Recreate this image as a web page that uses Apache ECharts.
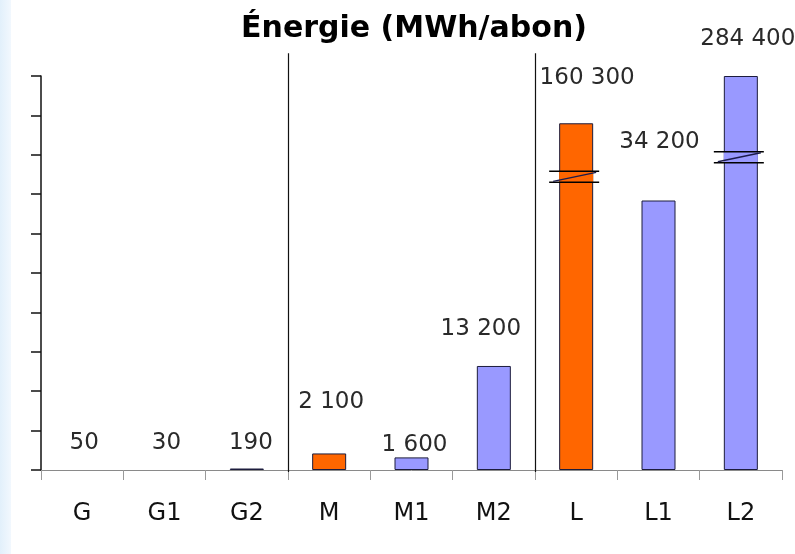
<!DOCTYPE html>
<html>
<head>
<meta charset="utf-8">
<script src="https://cdn.jsdelivr.net/npm/echarts@6/dist/echarts.min.js"></script>
<style>
html,body{margin:0;padding:0;background:#fff;}
#chart{width:795px;height:554px;}
</style>
</head>
<body>
<div id="chart"></div>
<script>
// ---- data ----
var categories = ['G', 'G1', 'G2', 'M', 'M1', 'M2', 'L', 'L1', 'L2'];
// real values shown in the labels (MWh/abon)
var realValues = [50, 30, 190, 2100, 1600, 13200, 160300, 34200, 284400];
// heights drawn on the broken axis (L and L2 are cut)
var drawnValues = [50, 30, 190, 2100, 1600, 13200, 44000, 34200, 50000];
// value where the axis break symbol is drawn (null = no break)
var breakValues = [null, null, null, null, null, null, 37200, null, 39700];
// group separators placed before these category indices
var separatorsBefore = [3, 6];

// ---- styles ----
var ORANGE = '#FF6600', BLUE = '#9999FF';
var barColors = [ORANGE, BLUE, BLUE, ORANGE, BLUE, BLUE, ORANGE, BLUE, BLUE];
var labelShift = [[2,-15],[2,-15],[4,-14],[2,-40],[3,-1],[-13,-25],[11,-34],[1,-47],[7,-25]];
var separatorTopValue = 52900;

function fmt(v) { return String(v).replace(/\B(?=(\d{3})+(?!\d))/g, ' '); }

var barData = drawnValues.map(function (v, i) {
  var tiny = v < 100; // sub-pixel bars are not visible in the original
  return {
    value: v,
    itemStyle: { color: tiny ? 'rgba(0,0,0,0)' : barColors[i], borderWidth: tiny ? 0 : 1 },
    label: { offset: labelShift[i] }
  };
});

var breakData = [];
breakValues.forEach(function (b, i) { if (b !== null) breakData.push([i, b, barColors[i]]); });
var sepData = separatorsBefore.map(function (i) { return [i, 0]; });

var chart = echarts.init(document.getElementById('chart'), null, { renderer: 'canvas' });
chart.setOption({
  animation: false,
  backgroundColor: '#ffffff',
  graphic: [{
    type: 'rect', left: 0, top: 0, z: -10,
    shape: { x: 0, y: 0, width: 11, height: 554 },
    style: { fill: new echarts.graphic.LinearGradient(0, 0, 1, 0, [
      { offset: 0, color: '#e2f0fb' }, { offset: 1, color: '#f2f8fe' }]) }
  }],
  title: {
    text: 'Énergie (MWh/abon)',
    left: 409, top: 9, textAlign: 'center',
    textStyle: { fontFamily: 'DejaVu Sans', fontWeight: 'bold', fontSize: 30, color: '#000' }
  },
  grid: { left: 41, right: 13, top: 76, bottom: 84 },
  xAxis: {
    type: 'category',
    data: categories,
    boundaryGap: true,
    axisLine: { lineStyle: { color: '#8a8a8a', width: 1 } },
    axisTick: { show: true, length: 10, alignWithLabel: false, lineStyle: { color: '#9a9a9a' } },
    axisLabel: { fontFamily: 'DejaVu Sans', fontSize: 24, color: '#111', margin: 32 },
    splitLine: { show: false }
  },
  yAxis: {
    type: 'value',
    min: 0, max: 50000, interval: 5000,
    axisLine: { show: true, lineStyle: { color: '#111', width: 1.5 } },
    axisTick: { show: true, length: 10, lineStyle: { color: '#111', width: 1.5 } },
    axisLabel: { show: false },
    splitLine: { show: false }
  },
  series: [{
    type: 'bar',
    data: barData,
    barWidth: 34,
    itemStyle: { borderColor: '#1c1c3c', borderWidth: 1 },
    label: {
      show: true, position: 'top', distance: 0,
      fontFamily: 'DejaVu Sans', fontSize: 23, color: '#2a2a2a',
      formatter: function (p) { return fmt(realValues[p.dataIndex]); }
    },
    z: 2
  }, {
    type: 'custom',
    data: breakData,
    z: 5,
    renderItem: function (params, api) {
      var c = api.coord([api.value(0), api.value(1)]);
      var x = c[0], y = c[1];
      return {
        type: 'group',
        children: [
          { type: 'rect', shape: { x: x - 17, y: y - 5.5, width: 34, height: 11 }, style: { fill: api.value(2) } },
          { type: 'line', shape: { x1: x - 27, y1: y - 5.5, x2: x + 23, y2: y - 5.5 }, style: { stroke: '#000', lineWidth: 1.5 } },
          { type: 'line', shape: { x1: x - 27, y1: y + 5.5, x2: x + 23, y2: y + 5.5 }, style: { stroke: '#000', lineWidth: 1.5 } },
          { type: 'line', shape: { x1: x - 23, y1: y + 4.5, x2: x + 20, y2: y - 4.5 }, style: { stroke: '#1c1c4c', lineWidth: 1.5 } }
        ]
      };
    }
  }, {
    type: 'custom',
    data: sepData,
    z: 6,
    renderItem: function (params, api) {
      var band = api.size([1, 0])[0];
      var b = api.coord([api.value(0), 0]);
      var t = api.coord([api.value(0), separatorTopValue]);
      var x = Math.round(b[0] - band / 2) + 0.5;
      return { type: 'line', shape: { x1: x, y1: t[1], x2: x, y2: b[1] + 2 }, style: { stroke: '#111', lineWidth: 1.2 } };
    }
  }]
});
</script>
</body>
</html>
